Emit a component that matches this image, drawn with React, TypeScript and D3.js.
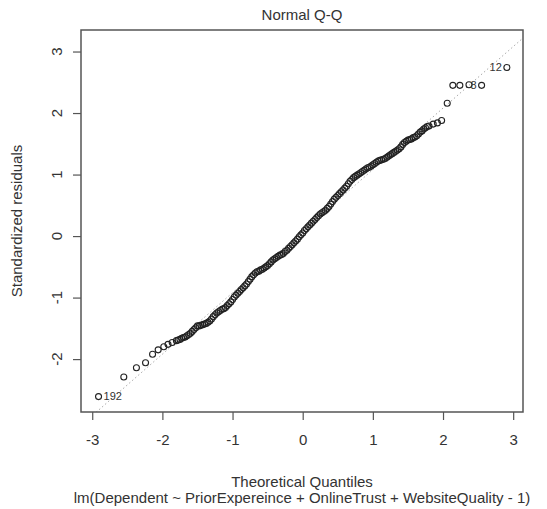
import { useEffect, useRef } from "react";
import * as d3 from "d3";

// theoretical quantiles (x) and standardized residuals (y)
const theoretical = [
  -2.91, -2.55, -2.37, -2.24, -2.14, -2.06, -1.98, -1.92, -1.86,
  -1.8, -1.775, -1.75, -1.725, -1.7, -1.675, -1.65, -1.625,
  -1.6, -1.575, -1.55, -1.525, -1.5, -1.475, -1.45, -1.425,
  -1.4, -1.375, -1.35, -1.325, -1.3, -1.275, -1.25, -1.225,
  -1.2, -1.175, -1.15, -1.125, -1.1, -1.075, -1.05, -1.025,
  -1.0, -0.975, -0.95, -0.925, -0.9, -0.875, -0.85, -0.825,
  -0.8, -0.775, -0.75, -0.725, -0.7, -0.675, -0.65, -0.625,
  -0.6, -0.575, -0.55, -0.525, -0.5, -0.475, -0.45, -0.425,
  -0.4, -0.375, -0.35, -0.325, -0.3, -0.275, -0.25, -0.225,
  -0.2, -0.175, -0.15, -0.125, -0.1, -0.075, -0.05, -0.025,
  0.0, 0.025, 0.05, 0.075, 0.1, 0.125, 0.15, 0.175,
  0.2, 0.225, 0.25, 0.275, 0.3, 0.325, 0.35, 0.375,
  0.4, 0.425, 0.45, 0.475, 0.5, 0.525, 0.55, 0.575,
  0.6, 0.625, 0.65, 0.675, 0.7, 0.725, 0.75, 0.775,
  0.8, 0.825, 0.85, 0.875, 0.9, 0.925, 0.95, 0.975,
  1.0, 1.025, 1.05, 1.075, 1.1, 1.125, 1.15, 1.175,
  1.2, 1.225, 1.25, 1.275, 1.3, 1.325, 1.35, 1.375,
  1.4, 1.425, 1.45, 1.475, 1.5, 1.525, 1.55, 1.575,
  1.6, 1.625, 1.65, 1.675, 1.7, 1.725, 1.75, 1.775,
  1.8,
  1.86, 1.92, 1.98, 2.06, 2.14, 2.24, 2.37, 2.55, 2.91,
];
const residuals = [
  -2.61, -2.29, -2.14, -2.06, -1.92, -1.85, -1.8, -1.76, -1.73,
  -1.7, -1.69, -1.68, -1.66, -1.65, -1.64, -1.62, -1.6,
  -1.58, -1.55, -1.52, -1.49, -1.46, -1.46, -1.45, -1.44,
  -1.43, -1.42, -1.4, -1.38, -1.35, -1.31, -1.28, -1.25,
  -1.23, -1.21, -1.19, -1.18, -1.16, -1.13, -1.1, -1.07,
  -1.03, -0.99, -0.96, -0.93, -0.9, -0.87, -0.84, -0.81,
  -0.78, -0.74, -0.7, -0.66, -0.63, -0.6, -0.58, -0.57,
  -0.55, -0.54, -0.52, -0.5, -0.48, -0.45, -0.42, -0.39,
  -0.37, -0.35, -0.33, -0.31, -0.3, -0.28, -0.25, -0.23,
  -0.2, -0.17, -0.14, -0.11, -0.08, -0.05, -0.01, 0.02,
  0.05, 0.09, 0.12, 0.15, 0.18, 0.21, 0.24, 0.27,
  0.3, 0.33, 0.36, 0.38, 0.4, 0.42, 0.45, 0.48,
  0.52, 0.56, 0.6, 0.63, 0.66, 0.69, 0.72, 0.75,
  0.78, 0.81, 0.85, 0.89, 0.92, 0.95, 0.97, 0.99,
  1.01, 1.03, 1.05, 1.07, 1.09, 1.11, 1.12, 1.14,
  1.16, 1.18, 1.2, 1.22, 1.23, 1.24, 1.25, 1.26,
  1.28, 1.3, 1.32, 1.34, 1.36, 1.38, 1.4, 1.42,
  1.45, 1.49, 1.52, 1.54, 1.56, 1.57, 1.58, 1.6,
  1.61, 1.63, 1.66, 1.69, 1.71, 1.74, 1.76, 1.78,
  1.79,
  1.82, 1.84, 1.88, 2.16, 2.45, 2.45, 2.46, 2.45, 2.74,
];
// labelled observations: index into the arrays above, and the label
const idIndex = [0, 161, 162];
const idText = ["192", "8", "12"];

const xTicks = [-3, -2, -1, 0, 1, 2, 3];
const yTicks = [-2, -1, 0, 1, 2, 3];

// dotted reference line
const lineIntercept = 0.08;
const lineSlope = 1.0;

const W = 547;
const H = 509;

const App = () => {
  const svgRef = useRef(null);

  useEffect(() => {
    const svg = d3.select(svgRef.current);
    svg.selectAll("*").remove();

    const box = { left: 81, right: 523, top: 30, bottom: 412 };
    const font = "'Liberation Sans', Arial, sans-serif";
    const fs = 15;
    const textCol = "#333";
    const axisCol = "#555";

    const x = d3.scaleLinear().domain([-3.16, 3.14]).range([box.left, box.right]);
    const y = d3.scaleLinear().domain([-2.86, 3.35]).range([box.bottom, box.top]);

    svg
      .append("defs")
      .append("clipPath")
      .attr("id", "plotclip")
      .append("rect")
      .attr("x", box.left)
      .attr("y", box.top)
      .attr("width", box.right - box.left)
      .attr("height", box.bottom - box.top);

    // reference line
    const [x0, x1] = x.domain();
    svg
      .append("line")
      .attr("clip-path", "url(#plotclip)")
      .attr("x1", x(x0))
      .attr("y1", y(lineIntercept + lineSlope * x0))
      .attr("x2", x(x1))
      .attr("y2", y(lineIntercept + lineSlope * x1))
      .attr("stroke", "#aaa")
      .attr("stroke-width", 1)
      .attr("stroke-dasharray", "1.5 2.5");

    // points
    svg
      .append("g")
      .selectAll("circle")
      .data(theoretical)
      .enter()
      .append("circle")
      .attr("cx", (d) => x(d))
      .attr("cy", (d, i) => y(residuals[i]))
      .attr("r", 3)
      .attr("fill", "none")
      .attr("stroke", "#222")
      .attr("stroke-width", 1.1);

    // id labels
    svg
      .append("g")
      .selectAll("text")
      .data(idIndex)
      .enter()
      .append("text")
      .attr("x", (d) => x(theoretical[d]) + (theoretical[d] < 0 ? 5 : -5))
      .attr("y", (d) => y(residuals[d]))
      .attr("dy", "0.35em")
      .attr("text-anchor", (d) => (theoretical[d] < 0 ? "start" : "end"))
      .attr("font-family", font)
      .attr("font-size", 11)
      .attr("fill", textCol)
      .text((d, i) => idText[i]);

    // box
    svg
      .append("rect")
      .attr("x", box.left)
      .attr("y", box.top)
      .attr("width", box.right - box.left)
      .attr("height", box.bottom - box.top)
      .attr("fill", "none")
      .attr("stroke", axisCol)
      .attr("stroke-width", 1.5);

    // x axis
    const xAxis = d3
      .axisBottom(x)
      .tickValues(xTicks)
      .tickSize(8)
      .tickPadding(14)
      .tickFormat((d) => String(d));
    const gx = svg
      .append("g")
      .attr("transform", `translate(0,${box.bottom})`)
      .call(xAxis);
    gx.select(".domain").remove();
    gx.selectAll(".tick line").attr("stroke", axisCol).attr("stroke-width", 1.2);
    gx.selectAll(".tick text")
      .attr("font-family", font)
      .attr("font-size", fs)
      .attr("fill", textCol);

    // y axis, R-style rotated labels
    const yAxis = d3.axisLeft(y).tickValues(yTicks).tickSize(8).tickFormat(() => "");
    const gy = svg
      .append("g")
      .attr("transform", `translate(${box.left},0)`)
      .call(yAxis);
    gy.select(".domain").remove();
    gy.selectAll(".tick line").attr("stroke", axisCol).attr("stroke-width", 1.2);
    svg
      .append("g")
      .selectAll("text")
      .data(yTicks)
      .enter()
      .append("text")
      .attr("transform", (d) => `translate(${box.left - 24},${y(d)}) rotate(-90)`)
      .attr("text-anchor", "middle")
      .attr("dy", "0.35em")
      .attr("font-family", font)
      .attr("font-size", fs)
      .attr("fill", textCol)
      .text((d) => d);

    // titles
    const cx = (box.left + box.right) / 2;
    const titles = [
      { text: "Normal Q-Q", y: 20 },
      { text: "Theoretical Quantiles", y: 487 },
      { text: "lm(Dependent ~ PriorExpereince + OnlineTrust + WebsiteQuality - 1)", y: 503 },
    ];
    svg
      .append("g")
      .selectAll("text")
      .data(titles)
      .enter()
      .append("text")
      .attr("x", cx)
      .attr("y", (d) => d.y)
      .attr("text-anchor", "middle")
      .attr("font-family", font)
      .attr("font-size", fs)
      .attr("fill", textCol)
      .text((d) => d.text);
    svg
      .append("text")
      .attr("transform", `translate(17,${(box.top + box.bottom) / 2}) rotate(-90)`)
      .attr("text-anchor", "middle")
      .attr("dy", "0.35em")
      .attr("font-family", font)
      .attr("font-size", fs)
      .attr("fill", textCol)
      .text("Standardized residuals");
  }, []);

  return (
    <div style={{ position: "absolute", left: 0, top: 0, width: W, height: H, background: "#fff" }}>
      <svg ref={svgRef} width={W} height={H}></svg>
    </div>
  );
};

export default App;
